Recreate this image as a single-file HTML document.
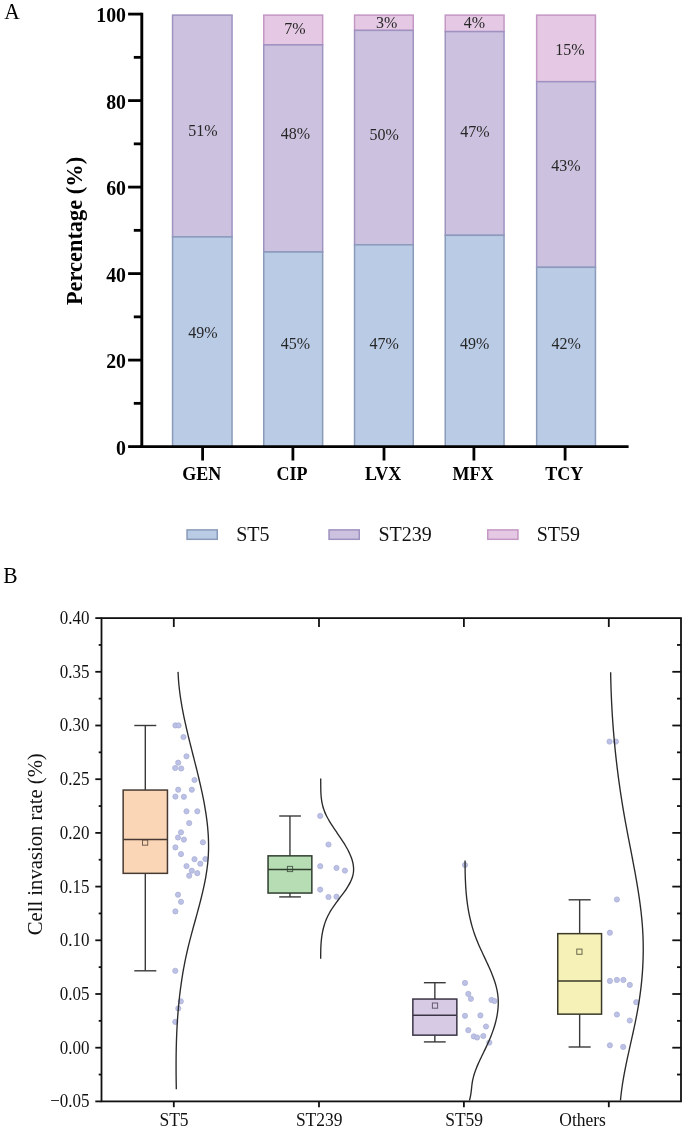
<!DOCTYPE html>
<html><head><meta charset="utf-8"><title>Figure</title><style>
html,body{margin:0;padding:0;background:#fff;}
svg{display:block;filter:blur(0.3px);}
text{font-family:"Liberation Serif", serif;fill:#000;}
.bl{font-size:16px;text-anchor:middle;fill:#262626;}
.ayt{font-size:19.8px;font-weight:bold;text-anchor:end;}
.axl{font-size:18px;font-weight:bold;text-anchor:middle;}
.atitle{font-size:22.4px;font-weight:bold;text-anchor:middle;}
.leg{font-size:20px;fill:#111;}
.pl{font-size:21.5px;}
.byt{font-size:17px;text-anchor:end;fill:#111;}
.bxl{font-size:17.5px;text-anchor:middle;fill:#111;}
.btitle{font-size:20.7px;text-anchor:middle;fill:#111;}
</style></head>
<body><svg width="685" height="1132" viewBox="0 0 685 1132">
<rect x="172.55" y="15.1" width="59.5" height="221.8" fill="#ccc2df" stroke="#9e92c0" stroke-width="1.5"/>
<rect x="172.55" y="236.9" width="59.5" height="210.1" fill="#bacbe5" stroke="#8a9bba" stroke-width="1.5"/>
<rect x="263.75" y="15.1" width="58.9" height="29.8" fill="#e5c9e4" stroke="#c497c4" stroke-width="1.5"/>
<rect x="263.75" y="44.9" width="58.9" height="207.1" fill="#ccc2df" stroke="#9e92c0" stroke-width="1.5"/>
<rect x="263.75" y="252" width="58.9" height="195" fill="#bacbe5" stroke="#8a9bba" stroke-width="1.5"/>
<rect x="354.55" y="15.1" width="58.7" height="15.3" fill="#e5c9e4" stroke="#c497c4" stroke-width="1.5"/>
<rect x="354.55" y="30.4" width="58.7" height="214.4" fill="#ccc2df" stroke="#9e92c0" stroke-width="1.5"/>
<rect x="354.55" y="244.8" width="58.7" height="202.2" fill="#bacbe5" stroke="#8a9bba" stroke-width="1.5"/>
<rect x="445.25" y="15.1" width="58.8" height="16.5" fill="#e5c9e4" stroke="#c497c4" stroke-width="1.5"/>
<rect x="445.25" y="31.6" width="58.8" height="203.7" fill="#ccc2df" stroke="#9e92c0" stroke-width="1.5"/>
<rect x="445.25" y="235.3" width="58.8" height="211.7" fill="#bacbe5" stroke="#8a9bba" stroke-width="1.5"/>
<rect x="536.65" y="15.1" width="58.8" height="66.6" fill="#e5c9e4" stroke="#c497c4" stroke-width="1.5"/>
<rect x="536.65" y="81.7" width="58.8" height="185.6" fill="#ccc2df" stroke="#9e92c0" stroke-width="1.5"/>
<rect x="536.65" y="267.3" width="58.8" height="179.7" fill="#bacbe5" stroke="#8a9bba" stroke-width="1.5"/>
<text x="202.8" y="136.1" class="bl">51%</text>
<text x="295.4" y="138.5" class="bl">48%</text>
<text x="384.2" y="139.5" class="bl">50%</text>
<text x="475" y="136.7" class="bl">47%</text>
<text x="566" y="170.5" class="bl">43%</text>
<text x="203" y="337.5" class="bl">49%</text>
<text x="295.4" y="348.8" class="bl">45%</text>
<text x="384.2" y="348.8" class="bl">47%</text>
<text x="474.7" y="348.8" class="bl">49%</text>
<text x="566.2" y="348.8" class="bl">42%</text>
<text x="294.8" y="34.3" class="bl">7%</text>
<text x="386.6" y="27.5" class="bl">3%</text>
<text x="474.5" y="27.5" class="bl">4%</text>
<text x="570" y="54.8" class="bl">15%</text>
<line x1="141.8" y1="12.7" x2="141.8" y2="448" stroke="#000" stroke-width="2.9"/>
<line x1="140.4" y1="446.6" x2="628.6" y2="446.6" stroke="#000" stroke-width="2.8"/>
<line x1="128.1" y1="446.6" x2="141.8" y2="446.6" stroke="#000" stroke-width="2.8"/>
<text transform="translate(126 454.6) scale(1 1.07)" class="ayt">0</text>
<line x1="128.1" y1="360.1" x2="141.8" y2="360.1" stroke="#000" stroke-width="2.8"/>
<text transform="translate(126 368.1) scale(1 1.07)" class="ayt">20</text>
<line x1="128.1" y1="273.6" x2="141.8" y2="273.6" stroke="#000" stroke-width="2.8"/>
<text transform="translate(126 281.6) scale(1 1.07)" class="ayt">40</text>
<line x1="128.1" y1="187.1" x2="141.8" y2="187.1" stroke="#000" stroke-width="2.8"/>
<text transform="translate(126 195.1) scale(1 1.07)" class="ayt">60</text>
<line x1="128.1" y1="100.6" x2="141.8" y2="100.6" stroke="#000" stroke-width="2.8"/>
<text transform="translate(126 108.6) scale(1 1.07)" class="ayt">80</text>
<line x1="128.1" y1="14.1" x2="141.8" y2="14.1" stroke="#000" stroke-width="2.8"/>
<text transform="translate(126 22.1) scale(1 1.07)" class="ayt">100</text>
<line x1="133.8" y1="403.35" x2="141.8" y2="403.35" stroke="#000" stroke-width="2.8"/>
<line x1="133.8" y1="316.85" x2="141.8" y2="316.85" stroke="#000" stroke-width="2.8"/>
<line x1="133.8" y1="230.35" x2="141.8" y2="230.35" stroke="#000" stroke-width="2.8"/>
<line x1="133.8" y1="143.85" x2="141.8" y2="143.85" stroke="#000" stroke-width="2.8"/>
<line x1="133.8" y1="57.35" x2="141.8" y2="57.35" stroke="#000" stroke-width="2.8"/>
<line x1="202.6" y1="446.6" x2="202.6" y2="460.5" stroke="#000" stroke-width="2.8"/>
<text x="201.8" y="480" class="axl">GEN</text>
<line x1="292.9" y1="446.6" x2="292.9" y2="460.5" stroke="#000" stroke-width="2.8"/>
<text x="292.1" y="480" class="axl">CIP</text>
<line x1="384" y1="446.6" x2="384" y2="460.5" stroke="#000" stroke-width="2.8"/>
<text x="383.2" y="480" class="axl">LVX</text>
<line x1="473.9" y1="446.6" x2="473.9" y2="460.5" stroke="#000" stroke-width="2.8"/>
<text x="473.1" y="480" class="axl">MFX</text>
<line x1="565.1" y1="446.6" x2="565.1" y2="460.5" stroke="#000" stroke-width="2.8"/>
<text x="564.3" y="480" class="axl">TCY</text>
<text transform="translate(82.2 231) rotate(-90)" class="atitle">Percentage (%)</text>
<rect x="187.05" y="529.9" width="30.2" height="9.4" fill="#bacbe5" stroke="#8a9bba" stroke-width="1.5"/>
<text x="236.2" y="541" class="leg">ST5</text>
<rect x="329.05" y="529.9" width="30.2" height="9.4" fill="#ccc2df" stroke="#9e92c0" stroke-width="1.5"/>
<text x="378.5" y="541" class="leg">ST239</text>
<rect x="487.75" y="529.9" width="30.2" height="9.4" fill="#e5c9e4" stroke="#c497c4" stroke-width="1.5"/>
<text x="536.7" y="541" class="leg">ST59</text>
<text transform="translate(4.2 18.7) scale(1 1.09)" class="pl">A</text>
<text transform="translate(3.3 583.1) scale(1 1.09)" class="pl">B</text>
<rect x="101.5" y="618.1" width="579.5" height="483.3" fill="none" stroke="#111" stroke-width="1.8"/>
<line x1="95.3" y1="1101.4" x2="101.5" y2="1101.4" stroke="#111" stroke-width="1.8"/>
<text transform="translate(89.6 1107.3) scale(1 1.1)" class="byt">−0.05</text>
<line x1="95.3" y1="1047.7" x2="101.5" y2="1047.7" stroke="#111" stroke-width="1.8"/>
<line x1="681" y1="1047.7" x2="672.3" y2="1047.7" stroke="#111" stroke-width="1.8"/>
<text transform="translate(89.6 1053.6) scale(1 1.1)" class="byt">0.00</text>
<line x1="95.3" y1="994" x2="101.5" y2="994" stroke="#111" stroke-width="1.8"/>
<line x1="681" y1="994" x2="672.3" y2="994" stroke="#111" stroke-width="1.8"/>
<text transform="translate(89.6 999.9) scale(1 1.1)" class="byt">0.05</text>
<line x1="95.3" y1="940.3" x2="101.5" y2="940.3" stroke="#111" stroke-width="1.8"/>
<line x1="681" y1="940.3" x2="672.3" y2="940.3" stroke="#111" stroke-width="1.8"/>
<text transform="translate(89.6 946.2) scale(1 1.1)" class="byt">0.10</text>
<line x1="95.3" y1="886.6" x2="101.5" y2="886.6" stroke="#111" stroke-width="1.8"/>
<line x1="681" y1="886.6" x2="672.3" y2="886.6" stroke="#111" stroke-width="1.8"/>
<text transform="translate(89.6 892.5) scale(1 1.1)" class="byt">0.15</text>
<line x1="95.3" y1="832.9" x2="101.5" y2="832.9" stroke="#111" stroke-width="1.8"/>
<line x1="681" y1="832.9" x2="672.3" y2="832.9" stroke="#111" stroke-width="1.8"/>
<text transform="translate(89.6 838.8) scale(1 1.1)" class="byt">0.20</text>
<line x1="95.3" y1="779.2" x2="101.5" y2="779.2" stroke="#111" stroke-width="1.8"/>
<line x1="681" y1="779.2" x2="672.3" y2="779.2" stroke="#111" stroke-width="1.8"/>
<text transform="translate(89.6 785.1) scale(1 1.1)" class="byt">0.25</text>
<line x1="95.3" y1="725.5" x2="101.5" y2="725.5" stroke="#111" stroke-width="1.8"/>
<line x1="681" y1="725.5" x2="672.3" y2="725.5" stroke="#111" stroke-width="1.8"/>
<text transform="translate(89.6 731.4) scale(1 1.1)" class="byt">0.30</text>
<line x1="95.3" y1="671.8" x2="101.5" y2="671.8" stroke="#111" stroke-width="1.8"/>
<line x1="681" y1="671.8" x2="672.3" y2="671.8" stroke="#111" stroke-width="1.8"/>
<text transform="translate(89.6 677.7) scale(1 1.1)" class="byt">0.35</text>
<line x1="95.3" y1="618.1" x2="101.5" y2="618.1" stroke="#111" stroke-width="1.8"/>
<text transform="translate(89.6 624) scale(1 1.1)" class="byt">0.40</text>
<line x1="98.7" y1="1074.55" x2="101.5" y2="1074.55" stroke="#111" stroke-width="1.8"/>
<line x1="681" y1="1074.55" x2="677" y2="1074.55" stroke="#111" stroke-width="1.8"/>
<line x1="98.7" y1="1020.85" x2="101.5" y2="1020.85" stroke="#111" stroke-width="1.8"/>
<line x1="681" y1="1020.85" x2="677" y2="1020.85" stroke="#111" stroke-width="1.8"/>
<line x1="98.7" y1="967.15" x2="101.5" y2="967.15" stroke="#111" stroke-width="1.8"/>
<line x1="681" y1="967.15" x2="677" y2="967.15" stroke="#111" stroke-width="1.8"/>
<line x1="98.7" y1="913.45" x2="101.5" y2="913.45" stroke="#111" stroke-width="1.8"/>
<line x1="681" y1="913.45" x2="677" y2="913.45" stroke="#111" stroke-width="1.8"/>
<line x1="98.7" y1="859.75" x2="101.5" y2="859.75" stroke="#111" stroke-width="1.8"/>
<line x1="681" y1="859.75" x2="677" y2="859.75" stroke="#111" stroke-width="1.8"/>
<line x1="98.7" y1="806.05" x2="101.5" y2="806.05" stroke="#111" stroke-width="1.8"/>
<line x1="681" y1="806.05" x2="677" y2="806.05" stroke="#111" stroke-width="1.8"/>
<line x1="98.7" y1="752.35" x2="101.5" y2="752.35" stroke="#111" stroke-width="1.8"/>
<line x1="681" y1="752.35" x2="677" y2="752.35" stroke="#111" stroke-width="1.8"/>
<line x1="98.7" y1="698.65" x2="101.5" y2="698.65" stroke="#111" stroke-width="1.8"/>
<line x1="681" y1="698.65" x2="677" y2="698.65" stroke="#111" stroke-width="1.8"/>
<line x1="98.7" y1="644.95" x2="101.5" y2="644.95" stroke="#111" stroke-width="1.8"/>
<line x1="681" y1="644.95" x2="677" y2="644.95" stroke="#111" stroke-width="1.8"/>
<line x1="173.8" y1="1101.4" x2="173.8" y2="1107.2" stroke="#111" stroke-width="1.8"/>
<line x1="173.8" y1="618.1" x2="173.8" y2="627" stroke="#111" stroke-width="1.8"/>
<line x1="319" y1="1101.4" x2="319" y2="1107.2" stroke="#111" stroke-width="1.8"/>
<line x1="319" y1="618.1" x2="319" y2="627" stroke="#111" stroke-width="1.8"/>
<line x1="463.9" y1="1101.4" x2="463.9" y2="1107.2" stroke="#111" stroke-width="1.8"/>
<line x1="463.9" y1="618.1" x2="463.9" y2="627" stroke="#111" stroke-width="1.8"/>
<line x1="608.8" y1="1101.4" x2="608.8" y2="1107.2" stroke="#111" stroke-width="1.8"/>
<line x1="608.8" y1="618.1" x2="608.8" y2="627" stroke="#111" stroke-width="1.8"/>
<text transform="translate(174 1125.6) scale(1 1.1)" class="bxl">ST5</text>
<text transform="translate(319.2 1125.6) scale(1 1.1)" class="bxl">ST239</text>
<text transform="translate(464.1 1125.6) scale(1 1.1)" class="bxl">ST59</text>
<text transform="translate(559.3 1125.6) scale(1 1.1)" class="bxl" style="text-anchor:start">Others</text>
<text transform="translate(42 844.3) rotate(-90)" class="btitle">Cell invasion rate (%)</text>
<line x1="145.3" y1="725.5" x2="145.3" y2="873.7" stroke="#3a3a3a" stroke-width="1.4"/>
<line x1="145.3" y1="789.7" x2="145.3" y2="970.8" stroke="#3a3a3a" stroke-width="1.4"/>
<line x1="134.3" y1="725.5" x2="156.3" y2="725.5" stroke="#3a3a3a" stroke-width="1.4"/>
<line x1="134.3" y1="970.8" x2="156.3" y2="970.8" stroke="#3a3a3a" stroke-width="1.4"/>
<rect x="123.15" y="790.05" width="44.3" height="83.3" fill="#fad6b6" stroke="#463a32" stroke-width="1.5"/>
<line x1="123.3" y1="839.6" x2="167.3" y2="839.6" stroke="#463a32" stroke-width="1.5"/>
<rect x="142.5" y="840" width="5.2" height="5.2" fill="none" stroke="#463a32" stroke-width="1" stroke-opacity="0.75"/>
<line x1="289.95" y1="816" x2="289.95" y2="893.4" stroke="#3a3a3a" stroke-width="1.4"/>
<line x1="289.95" y1="855.5" x2="289.95" y2="896.9" stroke="#3a3a3a" stroke-width="1.4"/>
<line x1="279.2" y1="816" x2="300.9" y2="816" stroke="#3a3a3a" stroke-width="1.4"/>
<line x1="279.2" y1="896.9" x2="300.9" y2="896.9" stroke="#3a3a3a" stroke-width="1.4"/>
<rect x="268.05" y="855.85" width="43.8" height="37.2" fill="#b7ddb5" stroke="#2f3e2f" stroke-width="1.5"/>
<line x1="268.2" y1="869.5" x2="311.7" y2="869.5" stroke="#2f3e2f" stroke-width="1.5"/>
<rect x="287.4" y="866.4" width="5.2" height="5.2" fill="none" stroke="#2f3e2f" stroke-width="1" stroke-opacity="0.75"/>
<line x1="434.85" y1="982.7" x2="434.85" y2="1035.5" stroke="#3a3a3a" stroke-width="1.4"/>
<line x1="434.85" y1="998.7" x2="434.85" y2="1041.9" stroke="#3a3a3a" stroke-width="1.4"/>
<line x1="423.9" y1="982.7" x2="445.7" y2="982.7" stroke="#3a3a3a" stroke-width="1.4"/>
<line x1="423.9" y1="1041.9" x2="445.7" y2="1041.9" stroke="#3a3a3a" stroke-width="1.4"/>
<rect x="412.85" y="999.05" width="44" height="36.1" fill="#d6cae4" stroke="#3b3445" stroke-width="1.5"/>
<line x1="413" y1="1015.3" x2="456.7" y2="1015.3" stroke="#3b3445" stroke-width="1.5"/>
<rect x="432.4" y="1003" width="5.2" height="5.2" fill="none" stroke="#3b3445" stroke-width="1" stroke-opacity="0.75"/>
<line x1="579.65" y1="899.8" x2="579.65" y2="1014.5" stroke="#3a3a3a" stroke-width="1.4"/>
<line x1="579.65" y1="933.3" x2="579.65" y2="1047" stroke="#3a3a3a" stroke-width="1.4"/>
<line x1="568.6" y1="899.8" x2="590.7" y2="899.8" stroke="#3a3a3a" stroke-width="1.4"/>
<line x1="568.6" y1="1047" x2="590.7" y2="1047" stroke="#3a3a3a" stroke-width="1.4"/>
<rect x="557.75" y="933.65" width="43.8" height="80.5" fill="#f6f1b7" stroke="#3b3a28" stroke-width="1.5"/>
<line x1="557.9" y1="981" x2="601.4" y2="981" stroke="#3b3a28" stroke-width="1.5"/>
<rect x="576.8" y="949.1" width="5.2" height="5.2" fill="none" stroke="#3b3a28" stroke-width="1" stroke-opacity="0.75"/>
<circle cx="175.4" cy="725.4" r="2.6" fill="#bcc1e5" stroke="#abb1d7" stroke-width="0.8"/>
<circle cx="178.6" cy="725.4" r="2.6" fill="#bcc1e5" stroke="#abb1d7" stroke-width="0.8"/>
<circle cx="183.5" cy="737" r="2.6" fill="#bcc1e5" stroke="#abb1d7" stroke-width="0.8"/>
<circle cx="186.5" cy="756.3" r="2.6" fill="#bcc1e5" stroke="#abb1d7" stroke-width="0.8"/>
<circle cx="178.2" cy="762.7" r="2.6" fill="#bcc1e5" stroke="#abb1d7" stroke-width="0.8"/>
<circle cx="175.2" cy="768" r="2.6" fill="#bcc1e5" stroke="#abb1d7" stroke-width="0.8"/>
<circle cx="181.2" cy="768.5" r="2.6" fill="#bcc1e5" stroke="#abb1d7" stroke-width="0.8"/>
<circle cx="194.5" cy="780" r="2.6" fill="#bcc1e5" stroke="#abb1d7" stroke-width="0.8"/>
<circle cx="178.2" cy="789.7" r="2.6" fill="#bcc1e5" stroke="#abb1d7" stroke-width="0.8"/>
<circle cx="191.8" cy="789.7" r="2.6" fill="#bcc1e5" stroke="#abb1d7" stroke-width="0.8"/>
<circle cx="175.4" cy="796.6" r="2.6" fill="#bcc1e5" stroke="#abb1d7" stroke-width="0.8"/>
<circle cx="183.9" cy="796.8" r="2.6" fill="#bcc1e5" stroke="#abb1d7" stroke-width="0.8"/>
<circle cx="186.5" cy="811.3" r="2.6" fill="#bcc1e5" stroke="#abb1d7" stroke-width="0.8"/>
<circle cx="197.3" cy="811.3" r="2.6" fill="#bcc1e5" stroke="#abb1d7" stroke-width="0.8"/>
<circle cx="189.2" cy="823.1" r="2.6" fill="#bcc1e5" stroke="#abb1d7" stroke-width="0.8"/>
<circle cx="181" cy="832.3" r="2.6" fill="#bcc1e5" stroke="#abb1d7" stroke-width="0.8"/>
<circle cx="178" cy="837.5" r="2.6" fill="#bcc1e5" stroke="#abb1d7" stroke-width="0.8"/>
<circle cx="183.9" cy="839.6" r="2.6" fill="#bcc1e5" stroke="#abb1d7" stroke-width="0.8"/>
<circle cx="202.9" cy="842.3" r="2.6" fill="#bcc1e5" stroke="#abb1d7" stroke-width="0.8"/>
<circle cx="175.4" cy="847.4" r="2.6" fill="#bcc1e5" stroke="#abb1d7" stroke-width="0.8"/>
<circle cx="181" cy="854.1" r="2.6" fill="#bcc1e5" stroke="#abb1d7" stroke-width="0.8"/>
<circle cx="194.5" cy="859.2" r="2.6" fill="#bcc1e5" stroke="#abb1d7" stroke-width="0.8"/>
<circle cx="205.4" cy="859" r="2.6" fill="#bcc1e5" stroke="#abb1d7" stroke-width="0.8"/>
<circle cx="200.3" cy="863.7" r="2.6" fill="#bcc1e5" stroke="#abb1d7" stroke-width="0.8"/>
<circle cx="186.5" cy="866.1" r="2.6" fill="#bcc1e5" stroke="#abb1d7" stroke-width="0.8"/>
<circle cx="191.8" cy="870.7" r="2.6" fill="#bcc1e5" stroke="#abb1d7" stroke-width="0.8"/>
<circle cx="197.3" cy="873.2" r="2.6" fill="#bcc1e5" stroke="#abb1d7" stroke-width="0.8"/>
<circle cx="189.2" cy="875.7" r="2.6" fill="#bcc1e5" stroke="#abb1d7" stroke-width="0.8"/>
<circle cx="178" cy="894.7" r="2.6" fill="#bcc1e5" stroke="#abb1d7" stroke-width="0.8"/>
<circle cx="181" cy="901.8" r="2.6" fill="#bcc1e5" stroke="#abb1d7" stroke-width="0.8"/>
<circle cx="175.4" cy="911.4" r="2.6" fill="#bcc1e5" stroke="#abb1d7" stroke-width="0.8"/>
<circle cx="175.3" cy="970.8" r="2.6" fill="#bcc1e5" stroke="#abb1d7" stroke-width="0.8"/>
<circle cx="180.8" cy="1001.3" r="2.6" fill="#bcc1e5" stroke="#abb1d7" stroke-width="0.8"/>
<circle cx="178.3" cy="1008.4" r="2.6" fill="#bcc1e5" stroke="#abb1d7" stroke-width="0.8"/>
<circle cx="175.3" cy="1021.9" r="2.6" fill="#bcc1e5" stroke="#abb1d7" stroke-width="0.8"/>
<circle cx="320.2" cy="815.9" r="2.6" fill="#bcc1e5" stroke="#abb1d7" stroke-width="0.8"/>
<circle cx="328.5" cy="844.5" r="2.6" fill="#bcc1e5" stroke="#abb1d7" stroke-width="0.8"/>
<circle cx="320.2" cy="866.2" r="2.6" fill="#bcc1e5" stroke="#abb1d7" stroke-width="0.8"/>
<circle cx="336.5" cy="867.9" r="2.6" fill="#bcc1e5" stroke="#abb1d7" stroke-width="0.8"/>
<circle cx="344.9" cy="870.6" r="2.6" fill="#bcc1e5" stroke="#abb1d7" stroke-width="0.8"/>
<circle cx="320.2" cy="889.6" r="2.6" fill="#bcc1e5" stroke="#abb1d7" stroke-width="0.8"/>
<circle cx="328.5" cy="897" r="2.6" fill="#bcc1e5" stroke="#abb1d7" stroke-width="0.8"/>
<circle cx="336.5" cy="896.7" r="2.6" fill="#bcc1e5" stroke="#abb1d7" stroke-width="0.8"/>
<circle cx="465" cy="865" r="2.6" fill="#bcc1e5" stroke="#abb1d7" stroke-width="0.8"/>
<circle cx="465" cy="982.9" r="2.6" fill="#bcc1e5" stroke="#abb1d7" stroke-width="0.8"/>
<circle cx="468.3" cy="993.9" r="2.6" fill="#bcc1e5" stroke="#abb1d7" stroke-width="0.8"/>
<circle cx="470.9" cy="998.8" r="2.6" fill="#bcc1e5" stroke="#abb1d7" stroke-width="0.8"/>
<circle cx="491.5" cy="999.9" r="2.6" fill="#bcc1e5" stroke="#abb1d7" stroke-width="0.8"/>
<circle cx="494.4" cy="1001" r="2.6" fill="#bcc1e5" stroke="#abb1d7" stroke-width="0.8"/>
<circle cx="465" cy="1015.8" r="2.6" fill="#bcc1e5" stroke="#abb1d7" stroke-width="0.8"/>
<circle cx="480.4" cy="1015.4" r="2.6" fill="#bcc1e5" stroke="#abb1d7" stroke-width="0.8"/>
<circle cx="468.3" cy="1030.2" r="2.6" fill="#bcc1e5" stroke="#abb1d7" stroke-width="0.8"/>
<circle cx="486" cy="1026.5" r="2.6" fill="#bcc1e5" stroke="#abb1d7" stroke-width="0.8"/>
<circle cx="473.8" cy="1036.4" r="2.6" fill="#bcc1e5" stroke="#abb1d7" stroke-width="0.8"/>
<circle cx="477.1" cy="1037.5" r="2.6" fill="#bcc1e5" stroke="#abb1d7" stroke-width="0.8"/>
<circle cx="483.3" cy="1036" r="2.6" fill="#bcc1e5" stroke="#abb1d7" stroke-width="0.8"/>
<circle cx="489.3" cy="1042.6" r="2.6" fill="#bcc1e5" stroke="#abb1d7" stroke-width="0.8"/>
<circle cx="609.5" cy="741.6" r="2.6" fill="#bcc1e5" stroke="#abb1d7" stroke-width="0.8"/>
<circle cx="615.9" cy="741.6" r="2.6" fill="#bcc1e5" stroke="#abb1d7" stroke-width="0.8"/>
<circle cx="616.9" cy="899.5" r="2.6" fill="#bcc1e5" stroke="#abb1d7" stroke-width="0.8"/>
<circle cx="609.9" cy="932.7" r="2.6" fill="#bcc1e5" stroke="#abb1d7" stroke-width="0.8"/>
<circle cx="609.9" cy="980.9" r="2.6" fill="#bcc1e5" stroke="#abb1d7" stroke-width="0.8"/>
<circle cx="616.9" cy="979.9" r="2.6" fill="#bcc1e5" stroke="#abb1d7" stroke-width="0.8"/>
<circle cx="623.4" cy="979.9" r="2.6" fill="#bcc1e5" stroke="#abb1d7" stroke-width="0.8"/>
<circle cx="629.8" cy="984.9" r="2.6" fill="#bcc1e5" stroke="#abb1d7" stroke-width="0.8"/>
<circle cx="636.2" cy="1002.2" r="2.6" fill="#bcc1e5" stroke="#abb1d7" stroke-width="0.8"/>
<circle cx="616.9" cy="1014.5" r="2.6" fill="#bcc1e5" stroke="#abb1d7" stroke-width="0.8"/>
<circle cx="629.8" cy="1020.5" r="2.6" fill="#bcc1e5" stroke="#abb1d7" stroke-width="0.8"/>
<circle cx="609.9" cy="1045.3" r="2.6" fill="#bcc1e5" stroke="#abb1d7" stroke-width="0.8"/>
<circle cx="623.2" cy="1046.9" r="2.6" fill="#bcc1e5" stroke="#abb1d7" stroke-width="0.8"/>
<path d="M178.06 671.9C178.12 673.08 178.27 676.61 178.43 678.97C178.59 681.33 178.79 683.69 179.03 686.05C179.27 688.41 179.55 690.76 179.86 693.12C180.17 695.48 180.51 697.83 180.88 700.19C181.25 702.55 181.66 704.9 182.08 707.26C182.51 709.62 182.96 711.98 183.43 714.34C183.9 716.7 184.4 719.05 184.91 721.41C185.42 723.77 185.96 726.12 186.5 728.48C187.04 730.84 187.6 733.2 188.17 735.56C188.74 737.92 189.32 740.27 189.91 742.63C190.5 744.99 191.09 747.34 191.69 749.7C192.28 752.06 192.88 754.41 193.48 756.77C194.08 759.13 194.69 761.49 195.28 763.85C195.88 766.21 196.47 768.56 197.05 770.92C197.63 773.28 198.21 775.63 198.77 777.99C199.33 780.35 199.88 782.71 200.42 785.07C200.96 787.43 201.49 789.78 201.99 792.14C202.49 794.5 202.98 796.85 203.44 799.21C203.9 801.57 204.34 803.92 204.75 806.28C205.16 808.64 205.55 811 205.91 813.36C206.27 815.72 206.6 818.07 206.89 820.43C207.18 822.79 207.44 825.14 207.66 827.5C207.88 829.86 208.07 832.22 208.21 834.58C208.35 836.94 208.46 839.29 208.52 841.65C208.58 844.01 208.59 846.36 208.56 848.72C208.53 851.08 208.44 853.43 208.31 855.79C208.18 858.15 207.99 860.51 207.75 862.87C207.51 865.23 207.21 867.58 206.88 869.94C206.55 872.3 206.17 874.65 205.76 877.01C205.35 879.37 204.88 881.73 204.4 884.09C203.92 886.45 203.39 888.8 202.85 891.16C202.31 893.52 201.74 895.87 201.15 898.23C200.56 900.59 199.95 902.95 199.33 905.31C198.71 907.67 198.07 910.02 197.43 912.38C196.79 914.74 196.14 917.09 195.49 919.45C194.84 921.81 194.18 924.16 193.53 926.52C192.88 928.88 192.24 931.24 191.61 933.6C190.98 935.96 190.35 938.31 189.75 940.67C189.15 943.03 188.55 945.38 187.99 947.74C187.43 950.1 186.89 952.46 186.37 954.82C185.85 957.18 185.36 959.53 184.89 961.89C184.42 964.25 183.98 966.6 183.55 968.96C183.12 971.32 182.72 973.67 182.34 976.03C181.96 978.39 181.61 980.75 181.27 983.11C180.93 985.47 180.61 987.82 180.31 990.18C180.01 992.54 179.72 994.89 179.46 997.25C179.2 999.61 178.96 1001.97 178.73 1004.33C178.5 1006.69 178.29 1009.04 178.1 1011.4C177.91 1013.76 177.73 1016.11 177.57 1018.47C177.41 1020.83 177.25 1023.18 177.12 1025.54C176.99 1027.9 176.88 1030.26 176.77 1032.62C176.67 1034.98 176.57 1037.33 176.49 1039.69C176.41 1042.05 176.34 1044.4 176.29 1046.76C176.23 1049.12 176.19 1051.48 176.16 1053.84C176.13 1056.2 176.1 1058.55 176.09 1060.91C176.08 1063.27 176.08 1065.62 176.08 1067.98C176.08 1070.34 176.09 1072.69 176.11 1075.05C176.13 1077.41 176.16 1079.77 176.2 1082.13C176.23 1084.49 176.3 1088.02 176.32 1089.2" fill="none" stroke="#2a2a2a" stroke-width="1.35"/>
<path d="M320.7 778.5C320.7 779.01 320.72 780.54 320.73 781.56C320.74 782.58 320.74 783.59 320.75 784.61C320.76 785.63 320.76 786.65 320.77 787.67C320.78 788.69 320.8 789.7 320.83 790.72C320.86 791.74 320.9 792.76 320.96 793.78C321.02 794.8 321.09 795.82 321.19 796.84C321.29 797.86 321.41 798.87 321.55 799.89C321.69 800.91 321.85 801.93 322.05 802.95C322.25 803.97 322.48 804.98 322.75 806C323.02 807.02 323.31 808.04 323.65 809.06C323.99 810.08 324.37 811.1 324.79 812.12C325.21 813.14 325.68 814.15 326.17 815.17C326.67 816.19 327.2 817.21 327.76 818.23C328.32 819.25 328.9 820.26 329.51 821.28C330.12 822.3 330.75 823.32 331.4 824.34C332.04 825.36 332.71 826.37 333.38 827.39C334.05 828.41 334.75 829.43 335.44 830.45C336.13 831.47 336.83 832.49 337.52 833.51C338.21 834.53 338.91 835.54 339.6 836.56C340.29 837.58 340.97 838.6 341.64 839.62C342.31 840.64 342.97 841.65 343.61 842.67C344.25 843.69 344.88 844.71 345.49 845.73C346.1 846.75 346.68 847.77 347.24 848.79C347.8 849.81 348.33 850.82 348.83 851.84C349.33 852.86 349.81 853.88 350.25 854.9C350.69 855.92 351.09 856.93 351.45 857.95C351.81 858.97 352.14 859.99 352.42 861.01C352.7 862.03 352.93 863.05 353.11 864.07C353.29 865.09 353.43 866.1 353.51 867.12C353.59 868.14 353.62 869.16 353.59 870.18C353.56 871.2 353.47 872.21 353.31 873.23C353.15 874.25 352.93 875.27 352.65 876.29C352.37 877.31 352.01 878.33 351.6 879.35C351.19 880.37 350.72 881.38 350.21 882.4C349.7 883.42 349.12 884.44 348.52 885.46C347.92 886.48 347.28 887.49 346.61 888.51C345.94 889.53 345.23 890.55 344.51 891.57C343.79 892.59 343.04 893.61 342.29 894.63C341.54 895.65 340.76 896.66 339.99 897.68C339.22 898.7 338.45 899.72 337.69 900.74C336.93 901.76 336.16 902.77 335.42 903.79C334.68 904.81 333.96 905.83 333.26 906.85C332.56 907.87 331.88 908.89 331.24 909.91C330.6 910.93 330 911.94 329.43 912.96C328.86 913.98 328.33 915 327.83 916.02C327.33 917.04 326.88 918.05 326.45 919.07C326.02 920.09 325.62 921.11 325.25 922.13C324.88 923.15 324.54 924.16 324.23 925.18C323.92 926.2 323.64 927.22 323.38 928.24C323.12 929.26 322.89 930.28 322.68 931.3C322.47 932.32 322.28 933.33 322.11 934.35C321.94 935.37 321.79 936.39 321.66 937.41C321.53 938.43 321.42 939.44 321.32 940.46C321.22 941.48 321.14 942.5 321.07 943.52C321 944.54 320.94 945.56 320.89 946.58C320.84 947.6 320.81 948.61 320.78 949.63C320.75 950.65 320.74 951.67 320.72 952.69C320.71 953.71 320.7 954.72 320.69 955.74C320.68 956.76 320.68 958.29 320.68 958.8" fill="none" stroke="#2a2a2a" stroke-width="1.35"/>
<path d="M465.07 860.5C465.07 861.18 465.07 863.21 465.08 864.57C465.09 865.93 465.1 867.28 465.11 868.64C465.12 870 465.14 871.35 465.17 872.7C465.2 874.06 465.24 875.41 465.28 876.77C465.32 878.13 465.36 879.48 465.42 880.84C465.48 882.2 465.55 883.55 465.62 884.91C465.69 886.26 465.77 887.62 465.87 888.97C465.97 890.33 466.07 891.68 466.19 893.04C466.31 894.4 466.44 895.75 466.58 897.11C466.72 898.47 466.88 899.82 467.05 901.18C467.22 902.54 467.4 903.89 467.6 905.25C467.8 906.61 468.02 907.95 468.25 909.31C468.48 910.66 468.73 912.02 468.99 913.38C469.25 914.74 469.53 916.09 469.83 917.45C470.13 918.81 470.45 920.16 470.79 921.52C471.13 922.88 471.49 924.23 471.87 925.58C472.25 926.94 472.65 928.29 473.07 929.65C473.49 931.01 473.93 932.36 474.4 933.72C474.87 935.08 475.37 936.43 475.88 937.79C476.39 939.15 476.93 940.5 477.49 941.86C478.05 943.22 478.63 944.56 479.23 945.92C479.83 947.27 480.44 948.63 481.06 949.99C481.68 951.35 482.31 952.7 482.95 954.06C483.58 955.42 484.23 956.77 484.87 958.13C485.51 959.49 486.15 960.84 486.78 962.19C487.41 963.55 488.03 964.9 488.64 966.26C489.25 967.62 489.85 968.97 490.43 970.33C491.01 971.69 491.58 973.04 492.12 974.4C492.66 975.76 493.18 977.12 493.66 978.47C494.15 979.83 494.61 981.17 495.03 982.53C495.45 983.88 495.85 985.24 496.2 986.6C496.55 987.96 496.86 989.31 497.12 990.67C497.38 992.03 497.6 993.38 497.77 994.74C497.94 996.1 498.07 997.45 498.15 998.81C498.23 1000.16 498.26 1001.51 498.26 1002.87C498.25 1004.23 498.21 1005.58 498.12 1006.94C498.03 1008.3 497.9 1009.65 497.74 1011.01C497.58 1012.37 497.38 1013.73 497.14 1015.08C496.9 1016.44 496.63 1017.78 496.33 1019.14C496.03 1020.5 495.69 1021.85 495.32 1023.21C494.95 1024.57 494.56 1025.92 494.13 1027.28C493.7 1028.64 493.24 1029.99 492.76 1031.35C492.28 1032.71 491.77 1034.07 491.24 1035.42C490.71 1036.78 490.15 1038.12 489.58 1039.48C489 1040.84 488.41 1042.19 487.79 1043.55C487.18 1044.91 486.53 1046.26 485.89 1047.62C485.25 1048.98 484.58 1050.34 483.92 1051.69C483.26 1053.05 482.6 1054.39 481.95 1055.75C481.3 1057.11 480.64 1058.46 480.01 1059.82C479.38 1061.18 478.75 1062.53 478.16 1063.89C477.57 1065.25 477 1066.6 476.46 1067.96C475.92 1069.32 475.41 1070.67 474.94 1072.03C474.47 1073.38 474.04 1074.73 473.66 1076.09C473.28 1077.44 472.96 1078.8 472.68 1080.16C472.4 1081.52 472.2 1082.87 472.01 1084.23C471.82 1085.59 471.7 1086.94 471.54 1088.3C471.38 1089.65 471.25 1091 471.07 1092.36C470.88 1093.71 470.7 1095.07 470.43 1096.43C470.16 1097.79 469.6 1099.82 469.43 1100.5" fill="none" stroke="#2a2a2a" stroke-width="1.35"/>
<path d="M610.64 672.3C610.66 673.51 610.72 677.14 610.78 679.56C610.84 681.98 610.9 684.4 610.98 686.82C611.06 689.24 611.14 691.65 611.24 694.07C611.34 696.49 611.43 698.91 611.55 701.33C611.66 703.75 611.79 706.17 611.93 708.59C612.06 711.01 612.21 713.43 612.36 715.85C612.51 718.27 612.68 720.68 612.85 723.1C613.02 725.52 613.21 727.94 613.4 730.36C613.59 732.78 613.8 735.2 614.01 737.62C614.22 740.04 614.45 742.46 614.68 744.88C614.91 747.3 615.15 749.71 615.4 752.13C615.65 754.55 615.92 756.97 616.19 759.39C616.46 761.81 616.74 764.23 617.03 766.65C617.32 769.07 617.63 771.49 617.94 773.91C618.25 776.33 618.57 778.74 618.9 781.16C619.23 783.58 619.57 786 619.92 788.42C620.27 790.84 620.63 793.26 621 795.68C621.37 798.1 621.75 800.52 622.14 802.94C622.53 805.36 622.93 807.77 623.34 810.19C623.75 812.61 624.16 815.03 624.59 817.45C625.02 819.87 625.46 822.29 625.91 824.71C626.36 827.13 626.81 829.55 627.27 831.97C627.73 834.39 628.2 836.81 628.67 839.23C629.14 841.65 629.61 844.06 630.08 846.48C630.55 848.9 631.02 851.32 631.49 853.74C631.96 856.16 632.43 858.58 632.89 861C633.35 863.42 633.81 865.84 634.26 868.26C634.71 870.68 635.16 873.09 635.59 875.51C636.02 877.93 636.45 880.35 636.86 882.77C637.27 885.19 637.67 887.61 638.06 890.03C638.44 892.45 638.82 894.87 639.17 897.29C639.52 899.71 639.86 902.12 640.17 904.54C640.48 906.96 640.79 909.38 641.06 911.8C641.33 914.22 641.58 916.64 641.81 919.06C642.04 921.48 642.24 923.9 642.42 926.32C642.6 928.74 642.74 931.15 642.86 933.57C642.98 935.99 643.07 938.41 643.13 940.83C643.19 943.25 643.23 945.67 643.24 948.09C643.25 950.51 643.23 952.93 643.18 955.35C643.13 957.77 643.05 960.19 642.95 962.61C642.85 965.03 642.72 967.44 642.57 969.86C642.42 972.28 642.24 974.7 642.03 977.12C641.82 979.54 641.59 981.96 641.33 984.38C641.07 986.8 640.79 989.22 640.48 991.64C640.17 994.06 639.84 996.47 639.48 998.89C639.12 1001.31 638.74 1003.73 638.33 1006.15C637.92 1008.57 637.48 1010.99 637.03 1013.41C636.58 1015.83 636.1 1018.25 635.61 1020.67C635.12 1023.09 634.61 1025.5 634.09 1027.92C633.57 1030.34 633.04 1032.76 632.51 1035.18C631.98 1037.6 631.43 1040.02 630.89 1042.44C630.35 1044.86 629.81 1047.28 629.27 1049.7C628.73 1052.12 628.19 1054.53 627.67 1056.95C627.15 1059.37 626.63 1061.79 626.14 1064.21C625.64 1066.63 625.16 1069.05 624.7 1071.47C624.24 1073.89 623.79 1076.31 623.38 1078.73C622.97 1081.15 622.57 1083.56 622.21 1085.98C621.85 1088.4 621.52 1090.82 621.23 1093.24C620.94 1095.66 620.59 1099.29 620.46 1100.5" fill="none" stroke="#2a2a2a" stroke-width="1.35"/>
</svg></body></html>
